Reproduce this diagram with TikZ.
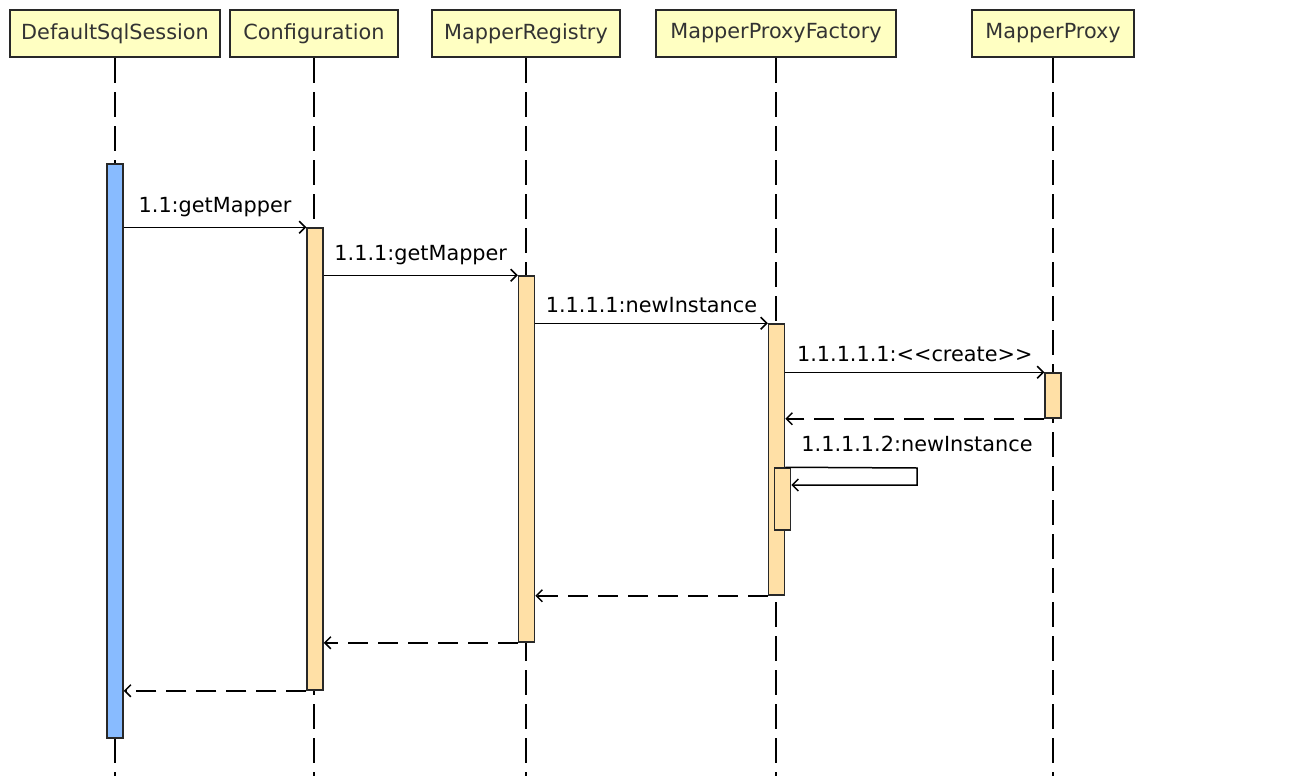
\documentclass[tikz,border=0pt]{standalone}
\usepackage{fontspec}
\setmainfont{DejaVu Sans}
\usetikzlibrary{arrows.meta}
\definecolor{headfill}{RGB}{255,255,194}
\definecolor{actfill}{RGB}{255,224,166}
\definecolor{sessfill}{RGB}{136,187,255}
\definecolor{edge}{RGB}{40,40,40}

\begin{document}
\begin{tikzpicture}[
                        x=1pt, y=-1pt,
                        every node/.style={font=\fontsize{20.8}{25}\selectfont},
                        head/.style={rectangle, draw=edge, line width=2pt, fill=headfill, text=black!80, minimum height=47pt, inner sep=0pt},
                        act/.style={rectangle, draw=edge, line width=1.5pt, fill=actfill, minimum width=16pt, inner sep=0pt},
                        life/.style={line width=1.5pt, dash pattern=on 25pt off 9pt},
                        msg/.style={line width=1.5pt, -{Straight Barb[length=6pt,width=12pt,line width=1.5pt]}},
                        ret/.style={msg, dash pattern=on 20pt off 10pt},
                        lbl/.style={above=10pt, inner sep=0pt}
                    ]
                    \useasboundingbox (0,0) rectangle (1306,776);
                    % Participants
                    \node [head, minimum width=210pt] (sess) at (115,33.5) {DefaultSqlSession};
                    \node [head, minimum width=168pt] (conf) at (314,33.5) {Configuration};
                    \node [head, minimum width=188pt] (reg) at (526,33.5) {MapperRegistry};
                    \node [head, minimum width=240pt] (fact) at (776,33.5) {MapperProxyFactory};
                    \node [head, minimum width=162pt] (proxy) at (1053,33.5) {MapperProxy};

                    % Lifelines
                    \foreach \p in {sess, conf, reg, fact, proxy}
                        \draw [life] (\p.south) -- (\p.south |- 0,776);

                    % Activations
                    \node [act, fill=sessfill, minimum height=574pt] (sessact) at (115,451) {};
                    \node [act, minimum height=462pt] (confact) at (315,459) {};
                    \node [act, minimum height=366pt] (regact) at (526.5,459) {};
                    \node [act, minimum height=271pt] (factact) at (776.5,459.5) {};
                    \node [act, minimum height=45pt] (proxyact) at (1053,395.5) {};
                    \node [act, minimum height=62pt] (selfact) at (782.5,499) {};

                    % Calls
                    \draw [msg] (sessact.east |- confact.north) -- node [lbl] (m1) {1.1:getMapper} (confact.north west);
                    \draw [msg] (confact.east |- regact.north) -- node [lbl] (m2) {1.1.1:getMapper} (regact.north west);
                    \draw [msg] (regact.east |- factact.north) -- node [lbl] (m3) {1.1.1.1:newInstance} (factact.north west);
                    \draw [msg] (factact.east |- proxyact.north) -- node [lbl] (m4) {1.1.1.1.1:<{}<create>{}>} (proxyact.north west);
                    \draw [ret] (proxyact.south west) -- (factact.east |- proxyact.south);

                    % Self call
                    \coordinate (loop) at (917,468);
                    \node [inner sep=0pt] (m5) at (917,444) {1.1.1.1.2:newInstance};
                    \draw [msg] (factact.east |- selfact.north) -- (loop) -- (loop |- 0,485) -- (selfact.east |- 0,485);

                    % Returns
                    \draw [ret] (factact.south west) -- (regact.east |- factact.south);
                    \draw [ret] (regact.south west) -- (confact.east |- regact.south);
                    \draw [ret] (confact.south west) -- (sessact.east |- confact.south);
                \end{tikzpicture}
\end{document}
